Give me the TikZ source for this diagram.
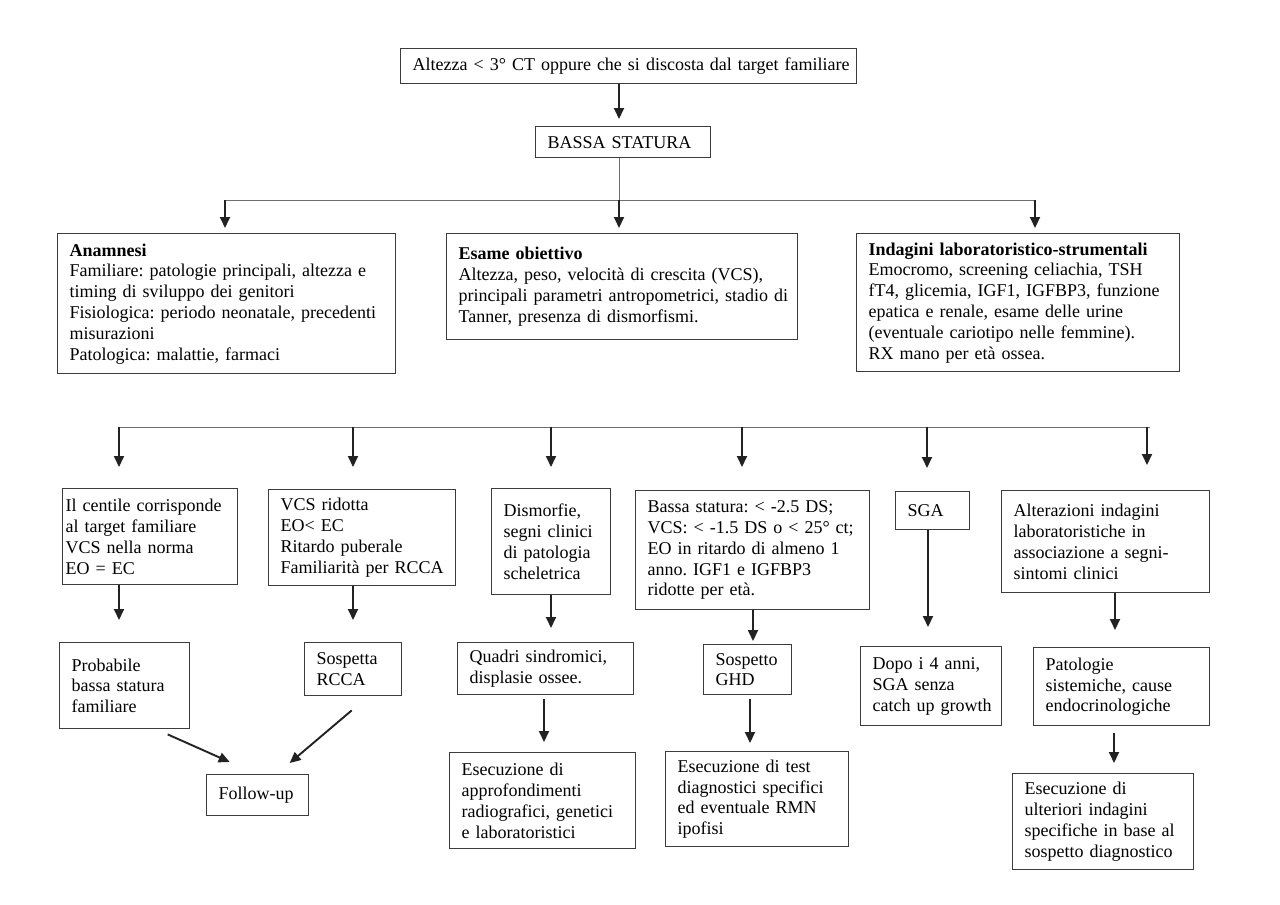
\documentclass[tikz,border=0pt]{standalone}
\usepackage{fontspec}
\setmainfont{Liberation Serif}
\usetikzlibrary{arrows.meta,calc}
\definecolor{boxc}{HTML}{3C3C3C}
\definecolor{linec}{HTML}{6E6E6E}
\definecolor{arrc}{HTML}{222222}
\begin{document}
\begin{tikzpicture}[x=1pt,y=-1pt,
  bx/.style={draw=boxc, line width=1.4pt, inner xsep=0pt, inner ysep=0pt,
    anchor=north west, align=left, font=\fontsize{18}{20.8}\selectfont\frenchspacing,
    execute at begin node={\leftskip=12pt\relax}},
  thin/.style={draw=linec, line width=1pt},
  arr/.style={draw=arrc, line width=1.9pt, -{Triangle[length=11pt,width=10pt]}}]
\fill[white] (0,0) rectangle (1280,905);
\useasboundingbox (0,0) rectangle (1280,905);

% top
\node[bx, text width=456pt, minimum height=35pt] (top) at (400,48) {Altezza < 3° CT oppure che si discosta dal target familiare};
\node[bx, text width=175pt, minimum height=31pt] (bassa) at (535,126) {BASSA STATURA};

% level 1
\node[bx, text width=338pt, minimum height=140pt] (anam) at (57,233) {\textbf{Anamnesi}\\Familiare: patologie principali, altezza e\\timing di sviluppo dei genitori\\Fisiologica: periodo neonatale, precedenti\\misurazioni\\Patologica: malattie, farmaci};
\node[bx, text width=351pt, minimum height=106pt] (esame) at (446,233) {\textbf{Esame obiettivo}\\Altezza, peso, velocità di crescita (VCS),\\principali parametri antropometrici, stadio di\\Tanner, presenza di dismorfismi.};
\node[bx, text width=323pt, minimum height=138pt] (indag) at (856,233) {\textbf{Indagini laboratoristico-strumentali}\\Emocromo, screening celiachia, TSH\\fT4, glicemia, IGF1, IGFBP3, funzione\\epatica e renale, esame delle urine\\(eventuale cariotipo nelle femmine).\\RX mano per età ossea.};

% level 2
\node[bx, text width=175pt, minimum height=96pt, execute at begin node={\leftskip=3pt\relax}] (b1) at (62,488) {Il centile corrisponde\\al target familiare\\VCS nella norma\\EO = EC};
\node[bx, text width=187pt, minimum height=96pt] (b2) at (268,489) {VCS ridotta\\EO< EC\\Ritardo puberale\\Familiarità per RCCA};
\node[bx, text width=119pt, minimum height=106pt] (b3) at (491,488) {Dismorfie,\\segni clinici\\di patologia\\scheletrica};
\node[bx, text width=234pt, minimum height=119pt] (b4) at (635,490) {Bassa statura: < -2.5 DS;\\VCS: < -1.5 DS o < 25° ct;\\EO in ritardo di almeno 1\\anno. IGF1 e IGFBP3\\ridotte per età.};
\node[bx, text width=74pt, minimum height=38pt] (b5) at (895,491) {SGA};
\node[bx, text width=208pt, minimum height=102pt] (b6) at (1001,490) {Alterazioni indagini\\laboratoristiche in\\associazione a segni-\\sintomi clinici};

% level 3
\node[bx, text width=130pt, minimum height=86pt] (prob) at (59,642) {Probabile\\bassa statura\\familiare};
\node[bx, text width=97pt, minimum height=53pt] (rcca) at (304,642) {Sospetta\\RCCA};
\node[bx, text width=102pt, minimum height=41pt] (fu) at (206,774) {Follow-up};
\node[bx, text width=176pt, minimum height=52pt] (quadri) at (457,642) {Quadri sindromici,\\displasie ossee.};
\node[bx, text width=186pt, minimum height=96pt] (esapp) at (449,752) {Esecuzione di\\approfondimenti\\radiografici, genetici\\e laboratoristici};
\node[bx, text width=88pt, minimum height=50pt] (ghd) at (703,644) {Sospetto\\GHD};
\node[bx, text width=183pt, minimum height=95pt] (estest) at (665,751) {Esecuzione di test\\diagnostici specifici\\ed eventuale RMN\\ipofisi};
\node[bx, text width=141pt, minimum height=79pt] (dopo) at (860,646) {Dopo i 4 anni,\\SGA senza\\catch up growth};
\node[bx, text width=176pt, minimum height=78pt] (pato) at (1033,647) {Patologie\\sistemiche, cause\\endocrinologiche};
\node[bx, text width=181pt, minimum height=96pt] (ult) at (1012,773) {Esecuzione di\\ulteriori indagini\\specifiche in base al\\sospetto diagnostico};

% coordinates
\coordinate (cx) at (619,0);
\coordinate (h1a) at (225,200);
\coordinate (h1b) at (619,200);
\coordinate (h1c) at (1035,200);
\coordinate (h2a) at (119,427);
\coordinate (h2b) at (353,427);
\coordinate (h2c) at (551,427);
\coordinate (h2d) at (742,427);
\coordinate (h2e) at (927,427);
\coordinate (h2f) at (1147,427);
\coordinate (h2end) at (1150,427);
\coordinate (x4) at (753,0);
\coordinate (x5) at (928,0);
\coordinate (x6) at (1115,0);
\coordinate (xq) at (544,0);
\coordinate (xg) at (750,0);
\coordinate (xp) at (1114,0);

% connectors top
\draw[arr, shorten >=7pt] (top.south -| cx) -- (bassa.north -| cx);
\draw[thin] (bassa.south -| cx) -- (h1b);
\draw[thin] (h1a) -- (h1c);
\draw[arr, shorten >=5pt] (h1a) -- (h1a |- anam.north);
\draw[arr, shorten >=5pt] (h1b) -- (h1b |- esame.north);
\draw[arr, shorten >=5pt] (h1c) -- (h1c |- indag.north);

% second bus
\draw[thin] (h2a) -- (h2end);
\draw[arr, shorten >=21pt] (h2a) -- (h2a |- b1.north);
\draw[arr, shorten >=22pt] (h2b) -- (h2b |- b2.north);
\draw[arr, shorten >=21pt] (h2c) -- (h2c |- b3.north);
\draw[arr, shorten >=23pt] (h2d) -- (h2d |- b4.north);
\draw[arr, shorten >=23pt] (h2e) -- (h2e |- b5.north);
\draw[arr, shorten >=25pt] (h2f) -- (h2f |- b6.north);

% third level
\draw[arr, shorten >=22pt] (b1.south -| h2a) -- (h2a |- prob.north);
\draw[arr, shorten >=22pt] (b2.south -| h2b) -- (h2b |- rcca.north);
\draw[arr, shorten >=14pt] (b3.south -| h2c) -- (h2c |- quadri.north);
\draw[arr, shorten >=3pt] (b4.south -| x4) -- (x4 |- ghd.north);
\draw[arr, shorten >=19pt] (b5.south -| x5) -- (x5 |- dopo.north);
\draw[arr, shorten >=17pt] (b6.south -| x6) -- (x6 |- pato.north);
\draw[arr, shorten <=4pt, shorten >=10pt] (quadri.south -| xq) -- (xq |- esapp.north);
\draw[arr, shorten <=4pt, shorten >=8pt] (ghd.south -| xg) -- (xg |- estest.north);
\draw[arr, shorten <=7pt, shorten >=10pt] (pato.south -| xp) -- (xp |- ult.north);
\draw[arr] ($(prob.south)+(43,5)$) -- ($(fu.north)+(-28,-12)$);
\draw[arr] ($(rcca.south)+(-1.5,14)$) -- ($(fu.north)+(32,-11)$);
\end{tikzpicture}
\end{document}
